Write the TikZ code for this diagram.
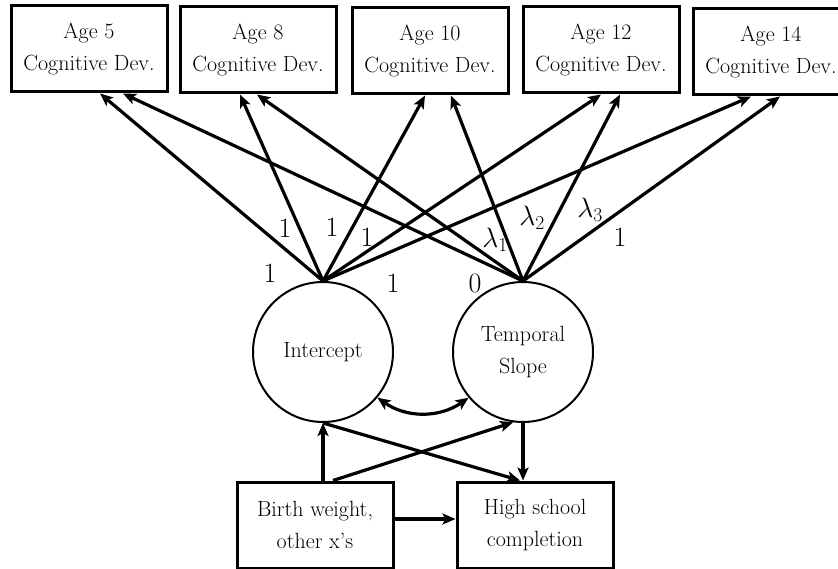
\RequirePackage{fix-cm}
\documentclass[tikz,border=0pt]{standalone}
\usepackage{amsmath, amssymb}
\usepackage{fontspec}
\usetikzlibrary{arrows.meta}
\usetikzlibrary{calc}

\begin{document}
\begin{tikzpicture}[x=1pt, y=-1pt,
  box/.style={draw, line width=3pt, minimum width=156pt, minimum height=86pt, inner sep=0pt, align=center, font=\fontsize{22}{32}\selectfont},
  latent/.style={draw, circle, line width=2pt, minimum size=140pt, inner sep=0pt, align=center, font=\fontsize{22}{32}\selectfont},
  arr/.style={line width=3.2pt, -{Stealth[length=13pt, width=11pt, inset=3pt]}},
  lbl/.style={inner sep=0pt, font=\fontsize{28}{30}\selectfont}]

\useasboundingbox (0,0) rectangle (838,569);
\clip (0,0) rectangle (838,569);

% First, define nodes
\draw (89,49) node[box] (age5) {Age 5\\Cognitive Dev.};
\draw (258,50) node[box] (age8) {Age 8\\Cognitive Dev.};
\draw (430,51) node[box] (age10) {Age 10\\Cognitive Dev.};
\draw (601,50) node[box] (age12) {Age 12\\Cognitive Dev.};
\draw (771,52) node[box] (age14) {Age 14\\Cognitive Dev.};

\draw (323,352) node[latent] (int) {Intercept};
\draw (523,352) node[latent] (slp) {Temporal\\Slope};

\draw (315,525) node[box] (bw) {Birth weight,\\other x's};
\draw (535,525) node[box] (hs) {High school\\completion};

% Loadings of the intercept, then of the slope
\draw[arr] (int.north) -- ($(age5.south)+(11,0)$);
\draw[arr] (int.north) -- ($(age8.south)+(-18,0)$);
\draw[arr] (int.north) -- ($(age10.south)+(-5,0)$);
\draw[arr] (int.north) -- ($(age12.south)+(0,0)$);
\draw[arr] (int.north) -- ($(age14.south)+(-20,0)$);

\draw[arr] (slp.north) -- ($(age5.south)+(34,0)$);
\draw[arr] (slp.north) -- ($(age8.south)+(-1,0)$);
\draw[arr] (slp.north) -- ($(age10.south)+(21,0)$);
\draw[arr] (slp.north) -- ($(age12.south)+(19,0)$);
\draw[arr] (slp.north) -- ($(age14.south)+(9,0)$);

% labels on the loadings
\foreach \x/\y/\t [count=\i] in {270/273/1, 285/228/1, 332/227/1, 367/237/1, 393/283/1,
  475/283/0, 495/240/\lambda_1, 532/218/\lambda_2, 590/210/\lambda_3, 620/237/1}
  { \draw (\x,\y) node[lbl] (l\i) {$\t$}; }

% covariance and regressions
\draw[arr, {Stealth[length=13pt, width=11pt, inset=3pt]}-{Stealth[length=13pt, width=11pt, inset=3pt]}] (int.-40) to[bend right=35] (slp.-140);
\draw[arr] (bw.north -| int.south) -- (int.south);
\draw[arr] ($(bw.north)+(18,0)$) -- (slp.-98);
\draw[arr] (int.south) -- ($(hs.north)+(-15,0)$);
\draw[arr] (slp.south) -- (slp.south |- hs.north);
\draw[arr] ($(bw.east)+(0,-6)$) -- ($(hs.west)+(0,-6)$);

\end{tikzpicture}
\end{document}
